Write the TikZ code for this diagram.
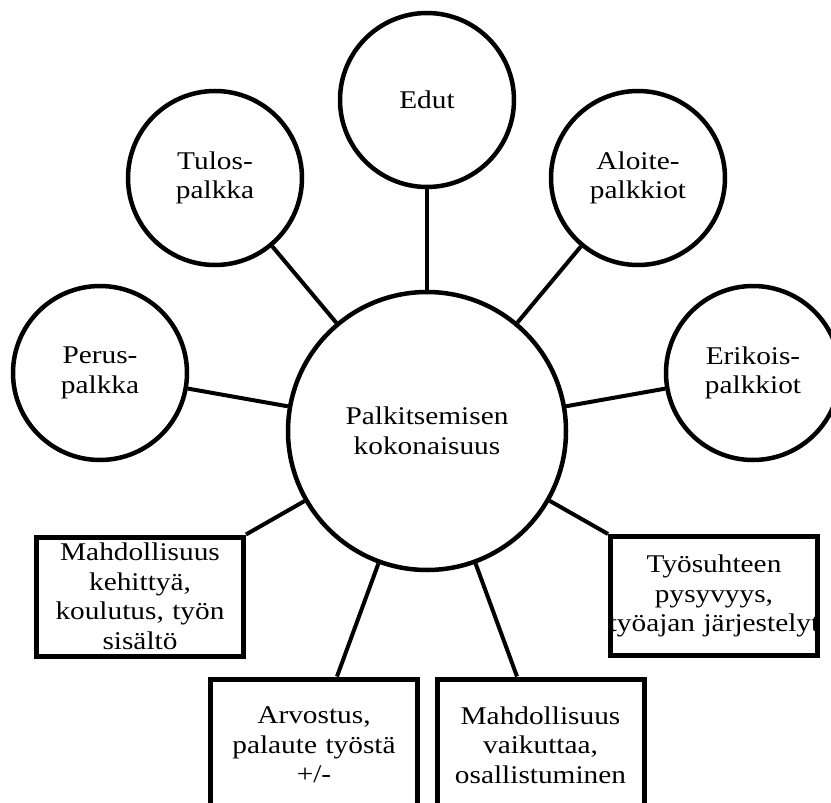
\documentclass[tikz,border=0pt]{standalone}
\usepackage{fontspec}
\setmainfont[FakeStretch=1.15]{Liberation Serif}
\usetikzlibrary{positioning,calc}

\begin{document}
\begin{tikzpicture}[x=1pt, y=-1pt,
  every node/.style={font=\fontsize{25.5}{29.5}\selectfont, align=center},
  pallo/.style={draw, circle, line width=4.5pt, minimum size=174pt, inner sep=0pt},
  isopallo/.style={draw, circle, line width=4.5pt, minimum size=278pt, inner sep=0pt},
  laatikko/.style={draw, rectangle, line width=5pt, text width=207pt, minimum height=119pt, inner sep=0pt},
  viiva/.style={line width=4pt}]
\clip (0,0) rectangle (831,803);
\node[isopallo] (koko) at (427,431) {Palkitsemisen\\kokonaisuus};
\node[pallo] (edut) at (427,100) {Edut};
\node[pallo] (tulos) at (215,178) {Tulos-\\palkka};
\node[pallo] (aloite) at (638,178) {Aloite-\\palkkiot};
\node[pallo] (perus) at (100,373) {Perus-\\palkka};
\node[pallo] (erikois) at (753,373) {Erikois-\\palkkiot};
\node[laatikko] (kehitys) at (140,596.5) {Mahdollisuus\\kehittyä,\\koulutus, työn\\sisältö};
\node[laatikko] (tyosuhde) at (714,596) {Työsuhteen\\pysyvyys,\\\makebox[\linewidth]{työajan järjestelyt}};
\node[laatikko, minimum height=132pt] (arvostus) at (314,745) {Arvostus,\\palaute työstä\\+/-};
\node[laatikko, minimum height=132pt] (vaikutus) at (540.5,745) {Mahdollisuus\\vaikuttaa,\\osallistuminen};
% yhteydet keskelle
\draw[viiva] (koko) -- (edut);
\draw[viiva] (koko) -- (tulos);
\draw[viiva] (koko) -- (aloite);
\draw[viiva] (koko) -- (perus);
\draw[viiva] (koko) -- (erikois);
\draw[viiva] (kehitys.north east) -- (koko);
\draw[viiva] (tyosuhde.north west) -- (koko);
\draw[viiva] ([xshift=23pt]arvostus.north) -- (koko);
\draw[viiva] ([xshift=-23.5pt]vaikutus.north) -- (koko);
\end{tikzpicture}
\end{document}
